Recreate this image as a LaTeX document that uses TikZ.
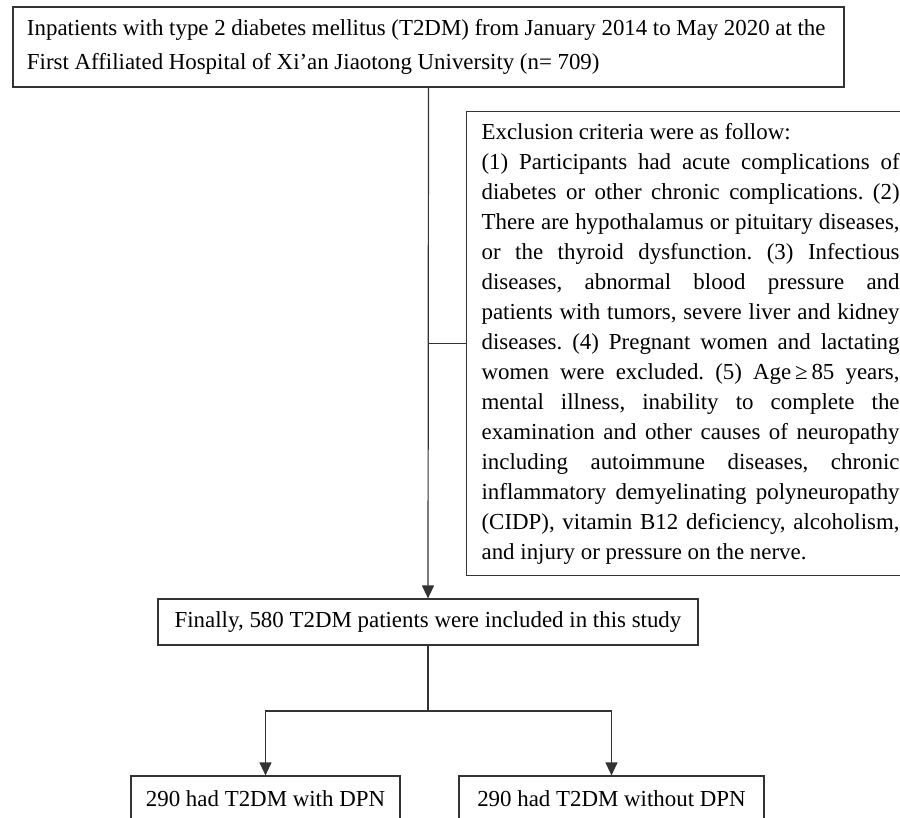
\documentclass[tikz,border=0pt]{standalone}
\usepackage{fontspec}
\setmainfont{Liberation Serif}
\usetikzlibrary{arrows.meta,positioning}

\begin{document}
\begin{tikzpicture}[x=1pt,y=-1pt,
  box/.style={draw=black!80, line width=1.2pt, inner xsep=14pt, inner ysep=4pt,
    font=\fontsize{22.9}{31}\selectfont\frenchspacing},
  link/.style={draw=black!80, line width=1.2pt},
  flowarrow/.style={link, -{Triangle[length=13pt,width=12pt]}}]
\useasboundingbox (0,0) rectangle (900,818);

\node[box, text width=803pt, minimum height=80pt, align=left,
  font=\fontsize{22.9}{34}\selectfont\frenchspacing] (top) at (428.5,47)
  {\spaceskip=0.245em plus 0.05em minus 0.02em\relax
   Inpatients with type 2 diabetes mellitus (T2DM) from January 2014 to May 2020 at the\\
   First Affiliated Hospital of Xi'an Jiaotong University (n= 709)};

\node[box, anchor=north west, inner xsep=15pt, text width=418pt, minimum height=464pt,
  align=justify, font=\fontsize{22.9}{30}\selectfont\frenchspacing] (excl) at (466,111)
  {\tolerance=10000\relax\hyphenpenalty=10000\relax
   Exclusion criteria were as follow:\\
   (1) Participants had acute complications of\linebreak
   diabetes or other chronic complications. (2)\linebreak
   There are hypothalamus or pituitary diseases,\linebreak
   or the thyroid dysfunction. (3) Infectious\linebreak
   diseases, abnormal blood pressure and\linebreak
   patients with tumors, severe liver and kidney\linebreak
   diseases. (4) Pregnant women and lactating\linebreak
   women were excluded. (5) Age\,≥\,85 years,\linebreak
   mental illness, inability to complete the\linebreak
   examination and other causes of neuropathy\linebreak
   including autoimmune diseases, chronic\linebreak
   inflammatory demyelinating polyneuropathy\linebreak
   (CIDP), vitamin B12 deficiency, alcoholism,\linebreak
   and injury or pressure on the nerve.};

\node[box, minimum width=540pt, minimum height=46pt] (final) at (428,622)
  {Finally, 580 T2DM patients were included in this study};

\node[box, minimum width=269pt, minimum height=46pt] (withdpn) at (265.5,799)
  {290 had T2DM with DPN};
\node[box, minimum width=305pt, minimum height=46pt] (nodpn) at (611.5,799)
  {290 had T2DM without DPN};

% connectors
\draw[flowarrow] (top.south) -- (final.north);
\draw[link] (excl.west) -- (excl.west -| top.south);
\coordinate (split) at (428,711);
\draw[link] (final.south) -- (split);
\draw[flowarrow] (split) -| (withdpn.north);
\draw[flowarrow] (split) -| (nodpn.north);
\end{tikzpicture}
\end{document}
